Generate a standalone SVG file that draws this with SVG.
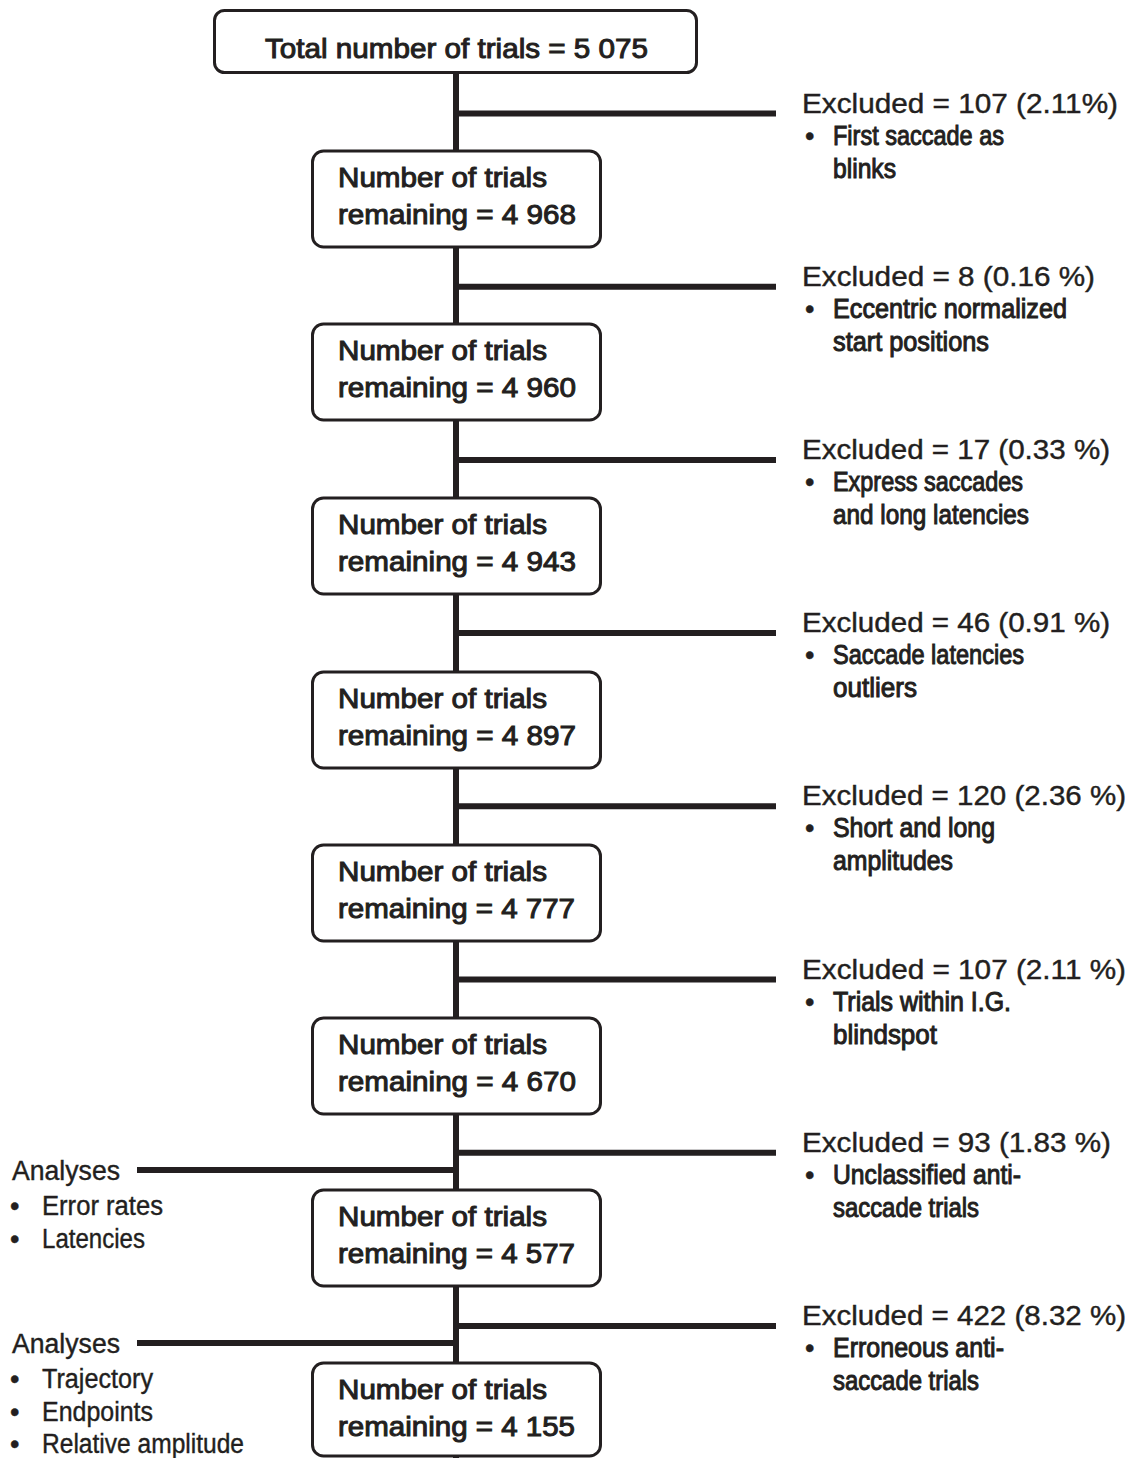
<svg xmlns="http://www.w3.org/2000/svg" width="1136" height="1458" viewBox="0 0 1136 1458">
<style>
.t{font-family:"Liberation Sans","Open Sans",sans-serif;font-size:27px;fill:#231f20;stroke:#231f20;stroke-width:0.4}
.h{stroke-width:1}
.tb{font-size:28px}
.box{fill:#fff;stroke:#231f20;stroke-width:3}
.ln{stroke:#231f20;stroke-width:6;fill:none}
</style>
<rect width="1136" height="1458" fill="#fff"/>
<g id="connectors">
<line class="ln" x1="456" y1="74" x2="456" y2="1458"/>
<line class="ln" x1="456" y1="113.5" x2="776" y2="113.5"/>
<line class="ln" x1="456" y1="286.7" x2="776" y2="286.7"/>
<line class="ln" x1="456" y1="459.9" x2="776" y2="459.9"/>
<line class="ln" x1="456" y1="633.1" x2="776" y2="633.1"/>
<line class="ln" x1="456" y1="806.3" x2="776" y2="806.3"/>
<line class="ln" x1="456" y1="979.5" x2="776" y2="979.5"/>
<line class="ln" x1="456" y1="1152.7" x2="776" y2="1152.7"/>
<line class="ln" x1="456" y1="1325.9" x2="776" y2="1325.9"/>
<line class="ln" x1="137" y1="1170" x2="456" y2="1170"/>
<line class="ln" x1="137" y1="1343" x2="456" y2="1343"/>
</g>
<g id="total">
<rect class="box" x="214.5" y="10.5" width="482" height="62" rx="10"/>
<text class="t tb h" x="265" y="58" textLength="383" lengthAdjust="spacingAndGlyphs">Total number of trials = 5 075</text>
</g>
<g id="n1">
<rect class="box" x="312.5" y="151" width="288" height="96" rx="11"/>
<text class="t h" x="338" y="187" textLength="209" lengthAdjust="spacingAndGlyphs">Number of trials</text>
<text class="t h" x="338" y="224" textLength="238" lengthAdjust="spacingAndGlyphs">remaining = 4 968</text>
</g>
<g id="n2">
<rect class="box" x="312.5" y="324" width="288" height="96" rx="11"/>
<text class="t h" x="338" y="360" textLength="209" lengthAdjust="spacingAndGlyphs">Number of trials</text>
<text class="t h" x="338" y="397" textLength="238" lengthAdjust="spacingAndGlyphs">remaining = 4 960</text>
</g>
<g id="n3">
<rect class="box" x="312.5" y="498" width="288" height="96" rx="11"/>
<text class="t h" x="338" y="534" textLength="209" lengthAdjust="spacingAndGlyphs">Number of trials</text>
<text class="t h" x="338" y="571" textLength="238" lengthAdjust="spacingAndGlyphs">remaining = 4 943</text>
</g>
<g id="n4">
<rect class="box" x="312.5" y="672" width="288" height="96" rx="11"/>
<text class="t h" x="338" y="708" textLength="209" lengthAdjust="spacingAndGlyphs">Number of trials</text>
<text class="t h" x="338" y="745" textLength="238" lengthAdjust="spacingAndGlyphs">remaining = 4 897</text>
</g>
<g id="n5">
<rect class="box" x="312.5" y="845" width="288" height="96" rx="11"/>
<text class="t h" x="338" y="881" textLength="209" lengthAdjust="spacingAndGlyphs">Number of trials</text>
<text class="t h" x="338" y="918" textLength="237" lengthAdjust="spacingAndGlyphs">remaining = 4 777</text>
</g>
<g id="n6">
<rect class="box" x="312.5" y="1018" width="288" height="96" rx="11"/>
<text class="t h" x="338" y="1054" textLength="209" lengthAdjust="spacingAndGlyphs">Number of trials</text>
<text class="t h" x="338" y="1091" textLength="238" lengthAdjust="spacingAndGlyphs">remaining = 4 670</text>
</g>
<g id="n7">
<rect class="box" x="312.5" y="1190" width="288" height="96" rx="11"/>
<text class="t h" x="338" y="1226" textLength="209" lengthAdjust="spacingAndGlyphs">Number of trials</text>
<text class="t h" x="338" y="1263" textLength="237" lengthAdjust="spacingAndGlyphs">remaining = 4 577</text>
</g>
<g id="n8">
<rect class="box" x="312.5" y="1363" width="288" height="93" rx="11"/>
<text class="t h" x="338" y="1399" textLength="209" lengthAdjust="spacingAndGlyphs">Number of trials</text>
<text class="t h" x="338" y="1436" textLength="237" lengthAdjust="spacingAndGlyphs">remaining = 4 155</text>
</g>
<g id="ex1">
<text class="t" x="802" y="112.5" textLength="316" lengthAdjust="spacingAndGlyphs">Excluded = 107 (2.11%)</text>
<text class="t" x="805" y="144.5">•</text>
<text class="t h" x="833" y="144.5" textLength="171" lengthAdjust="spacingAndGlyphs">First saccade as</text>
<text class="t h" x="833" y="177.5" textLength="63" lengthAdjust="spacingAndGlyphs">blinks</text>
</g>
<g id="ex2">
<text class="t" x="802" y="285.7" textLength="293" lengthAdjust="spacingAndGlyphs">Excluded = 8 (0.16 %)</text>
<text class="t" x="805" y="317.7">•</text>
<text class="t h" x="833" y="317.7" textLength="234" lengthAdjust="spacingAndGlyphs">Eccentric normalized</text>
<text class="t h" x="833" y="350.7" textLength="156" lengthAdjust="spacingAndGlyphs">start positions</text>
</g>
<g id="ex3">
<text class="t" x="802" y="458.9" textLength="308" lengthAdjust="spacingAndGlyphs">Excluded = 17 (0.33 %)</text>
<text class="t" x="805" y="490.9">•</text>
<text class="t h" x="833" y="490.9" textLength="190" lengthAdjust="spacingAndGlyphs">Express saccades</text>
<text class="t h" x="833" y="523.9" textLength="196" lengthAdjust="spacingAndGlyphs">and long latencies</text>
</g>
<g id="ex4">
<text class="t" x="802" y="632.1" textLength="308" lengthAdjust="spacingAndGlyphs">Excluded = 46 (0.91 %)</text>
<text class="t" x="805" y="664.1">•</text>
<text class="t h" x="833" y="664.1" textLength="191" lengthAdjust="spacingAndGlyphs">Saccade latencies</text>
<text class="t h" x="833" y="697.1" textLength="84" lengthAdjust="spacingAndGlyphs">outliers</text>
</g>
<g id="ex5">
<text class="t" x="802" y="805.3" textLength="324" lengthAdjust="spacingAndGlyphs">Excluded = 120 (2.36 %)</text>
<text class="t" x="805" y="837.3">•</text>
<text class="t h" x="833" y="837.3" textLength="162" lengthAdjust="spacingAndGlyphs">Short and long</text>
<text class="t h" x="833" y="870.3" textLength="120" lengthAdjust="spacingAndGlyphs">amplitudes</text>
</g>
<g id="ex6">
<text class="t" x="802" y="978.5" textLength="324" lengthAdjust="spacingAndGlyphs">Excluded = 107 (2.11 %)</text>
<text class="t" x="805" y="1010.5">•</text>
<text class="t h" x="833" y="1010.5" textLength="178" lengthAdjust="spacingAndGlyphs">Trials within I.G.</text>
<text class="t h" x="833" y="1043.5" textLength="104" lengthAdjust="spacingAndGlyphs">blindspot</text>
</g>
<g id="ex7">
<text class="t" x="802" y="1151.7" textLength="309" lengthAdjust="spacingAndGlyphs">Excluded = 93 (1.83 %)</text>
<text class="t" x="805" y="1183.7">•</text>
<text class="t h" x="833" y="1183.7" textLength="188" lengthAdjust="spacingAndGlyphs">Unclassified anti-</text>
<text class="t h" x="833" y="1216.7" textLength="146" lengthAdjust="spacingAndGlyphs">saccade trials</text>
</g>
<g id="ex8">
<text class="t" x="802" y="1324.9" textLength="324" lengthAdjust="spacingAndGlyphs">Excluded = 422 (8.32 %)</text>
<text class="t" x="805" y="1356.9">•</text>
<text class="t h" x="833" y="1356.9" textLength="171" lengthAdjust="spacingAndGlyphs">Erroneous anti-</text>
<text class="t h" x="833" y="1389.9" textLength="146" lengthAdjust="spacingAndGlyphs">saccade trials</text>
</g>
<g id="an1">
<text class="t" x="12" y="1180" textLength="108" lengthAdjust="spacingAndGlyphs">Analyses</text>
<text class="t" x="10" y="1215">•</text>
<text class="t" x="42" y="1215" textLength="121" lengthAdjust="spacingAndGlyphs">Error rates</text>
<text class="t" x="10" y="1248">•</text>
<text class="t" x="42" y="1248" textLength="103" lengthAdjust="spacingAndGlyphs">Latencies</text>
</g>
<g id="an2">
<text class="t" x="12" y="1353" textLength="108" lengthAdjust="spacingAndGlyphs">Analyses</text>
<text class="t" x="10" y="1388">•</text>
<text class="t" x="42" y="1388" textLength="111" lengthAdjust="spacingAndGlyphs">Trajectory</text>
<text class="t" x="10" y="1421">•</text>
<text class="t" x="42" y="1421" textLength="111" lengthAdjust="spacingAndGlyphs">Endpoints</text>
<text class="t" x="10" y="1453">•</text>
<text class="t" x="42" y="1453" textLength="202" lengthAdjust="spacingAndGlyphs">Relative amplitude</text>
</g>
</svg>
